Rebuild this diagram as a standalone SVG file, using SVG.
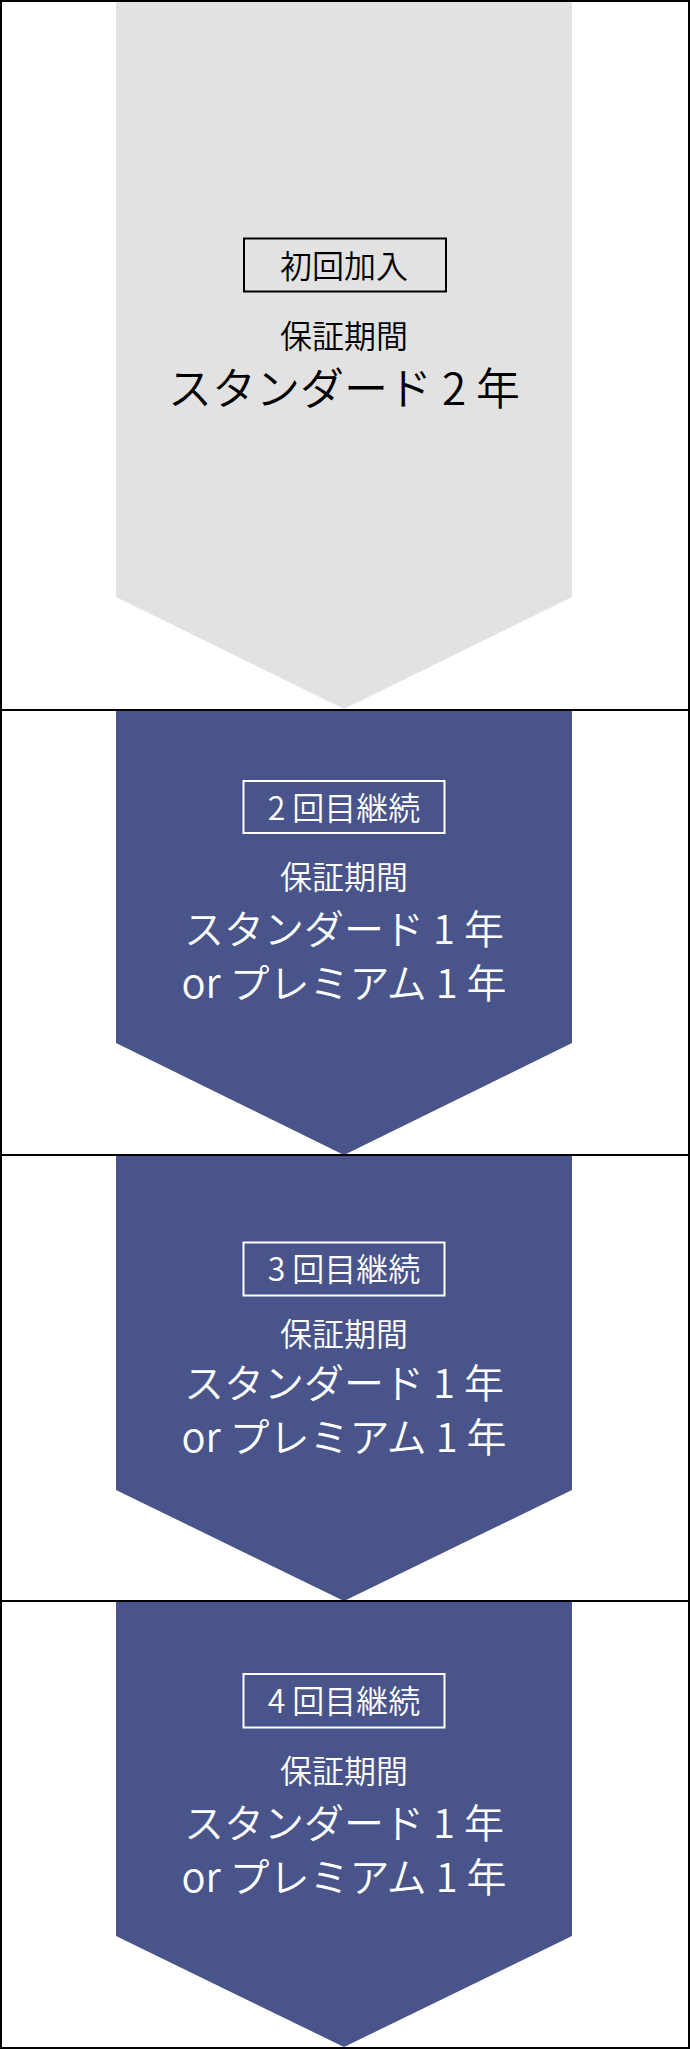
<svg xmlns="http://www.w3.org/2000/svg" width="690" height="2049" viewBox="0 0 690 2049">
  <style>
    .t { font-family: "Noto Sans CJK JP", "Noto Sans", sans-serif; text-anchor: middle; font-weight: 350; }
    .dark { fill: #000000; }
    .light { fill: #ffffff; }
    .grey { fill: #e2e2e2; }
    .navy { fill: #48548a; }
    .boxd { fill: none; stroke: #000000; stroke-width: 2; }
    .boxl { fill: none; stroke: #ffffff; stroke-width: 2; }
    .s32 { font-size: 32px; }
    .s40 { font-size: 40px; }
    .s44 { font-size: 44px; }
  </style>
  <rect x="0" y="0" width="690" height="2049" fill="#ffffff"/>

  <g id="step1">
    <polygon class="grey" points="116,2 572,2 572,597 344,709 116,597"/>
    <rect class="boxd" x="244" y="238.5" width="202" height="53"/>
    <text class="t dark s32" x="344" y="278">初回加入</text>
    <text class="t dark s32" x="344" y="348">保証期間</text>
    <text class="t dark s44" x="344" y="405">スタンダード 2 年</text>
  </g>

  <g id="step2">
    <polygon class="navy" points="116,711 572,711 572,1043 344,1155 116,1043"/>
    <rect class="boxl" x="243.5" y="781" width="201" height="52"/>
    <text class="t light s32" x="344" y="820">2 回目継続</text>
    <text class="t light s32" x="344" y="888.5">保証期間</text>
    <text class="t light s40" x="344" y="944">スタンダード 1 年</text>
    <text class="t light s40" x="344" y="998">or プレミアム 1 年</text>
  </g>

  <g id="step3">
    <polygon class="navy" points="116,1156 572,1156 572,1490 344,1601 116,1490"/>
    <rect class="boxl" x="243.5" y="1242.5" width="201" height="53"/>
    <text class="t light s32" x="344" y="1280.5">3 回目継続</text>
    <text class="t light s32" x="344" y="1345.5">保証期間</text>
    <text class="t light s40" x="344" y="1397.5">スタンダード 1 年</text>
    <text class="t light s40" x="344" y="1452">or プレミアム 1 年</text>
  </g>

  <g id="step4">
    <polygon class="navy" points="116,1602 572,1602 572,1936 344,2047 116,1936"/>
    <rect class="boxl" x="243.5" y="1674" width="201" height="53.5"/>
    <text class="t light s32" x="344" y="1712.5">4 回目継続</text>
    <text class="t light s32" x="344" y="1783">保証期間</text>
    <text class="t light s40" x="344" y="1837.5">スタンダード 1 年</text>
    <text class="t light s40" x="344" y="1892">or プレミアム 1 年</text>
  </g>

  <g id="connectors" fill="#000000">
    <rect x="0" y="709" width="690" height="2"/>
    <rect x="0" y="1154" width="690" height="2"/>
    <rect x="0" y="1600" width="690" height="2"/>
  </g>

  <rect x="1" y="1" width="688" height="2047" fill="none" stroke="#000000" stroke-width="2"/>
</svg>
